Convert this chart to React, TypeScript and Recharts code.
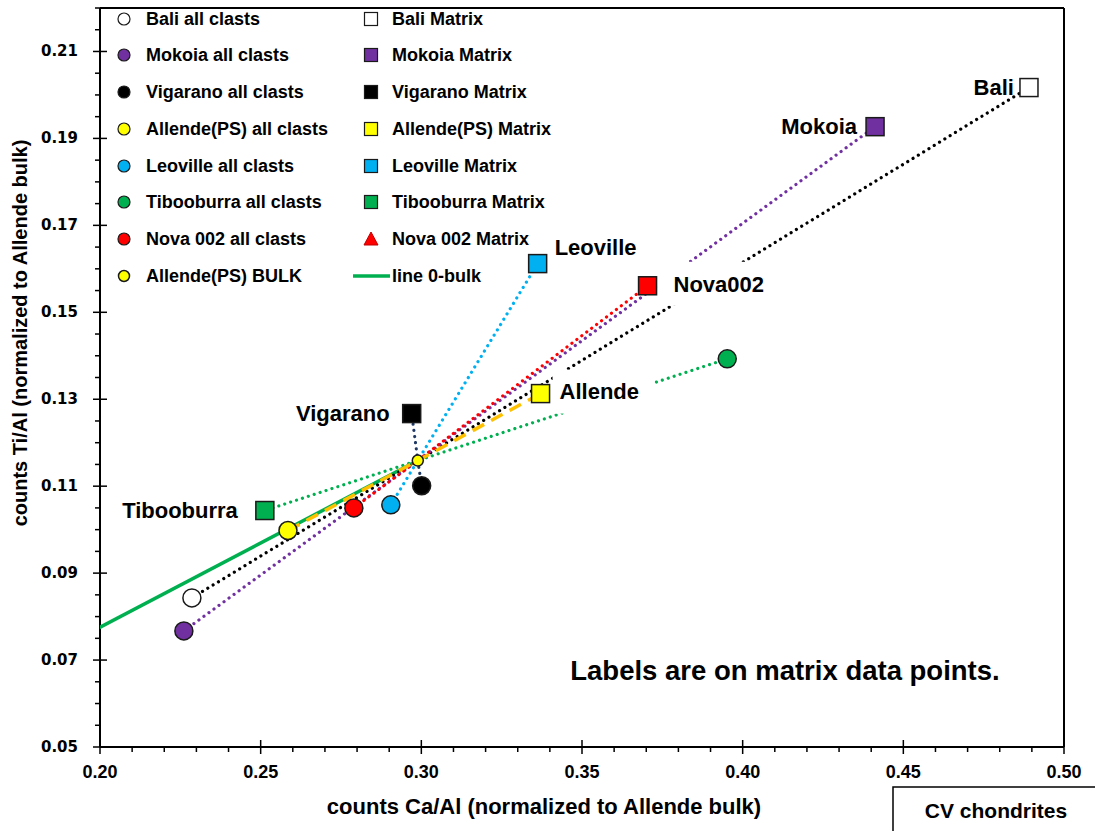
import React from 'react';
import { ScatterChart, Scatter, XAxis, YAxis, ReferenceLine } from 'recharts';

// ---------- data ----------
const sampleNames = ['Bali', 'Mokoia', 'Vigarano', 'Allende(PS)', 'Leoville', 'Tibooburra', 'Nova 002'];
const matrixLabels = ['Bali', 'Mokoia', 'Vigarano', 'Allende', 'Leoville', 'Tibooburra', 'Nova002'];
const clastX = [0.2286, 0.2261, 0.3001, 0.2585, 0.2905, 0.3952, 0.279];
const clastY = [0.0843, 0.0767, 0.1101, 0.0998, 0.1057, 0.1393, 0.105];
const matrixX = [0.4891, 0.4412, 0.297, 0.3371, 0.3362, 0.2513, 0.3704];
const matrixY = [0.2017, 0.1927, 0.1267, 0.1313, 0.1612, 0.1044, 0.1561];
const bulkX = [0.2989];
const bulkY = [0.1159];
const originX = [0];
const originY = [0];
const xMajorTicks = [0.2, 0.25, 0.3, 0.35, 0.4, 0.45, 0.5];
const yMajorTicks = [0.05, 0.07, 0.09, 0.11, 0.13, 0.15, 0.17, 0.19, 0.21];
const xTitle = 'counts Ca/Al (normalized to Allende bulk)';
const yTitle = 'counts Ti/Al (normalized to Allende bulk)';

// ---------- styles ----------
const FONT = '"Liberation Sans", Arial, sans-serif';
const TICKFONT = '"DejaVu Sans", Verdana, sans-serif';
const fills = ['#FFFFFF', '#7030A0', '#000000', '#FFFF00', '#00B0F0', '#00B050', '#FF0000'];
const lineColors = ['#000000', '#7030A0', '#1F3864', '#FFC000', '#00B0F0', '#00B050', '#FF0000'];
const lineOrder = [5, 0, 1, 6, 4, 2, 3];
const OUT = '#1a1a1a';
// label placement relative to the marker (style only)
const labelLayout = [
  { anchor: 'end', dx: -15, dy: 0, box: null },
  { anchor: 'end', dx: -18, dy: 0, box: null },
  { anchor: 'end', dx: -22, dy: 0, box: null },
  { anchor: 'start', dx: 19, dy: -2, box: [12, 114, -24, 20] },
  { anchor: 'start', dx: 17, dy: -16, box: null },
  { anchor: 'end', dx: -27, dy: 0, box: null },
  { anchor: 'start', dx: 26, dy: -1, box: [10, 132, -24, 20] },
];

const xTicks = Array.from({ length: 31 }, (_, i) => +(0.2 + i * 0.01).toFixed(2));
const yTicks = Array.from({ length: 35 }, (_, i) => +(0.05 + i * 0.005).toFixed(3));
const isXMajor = (v: number) => xMajorTicks.some((t) => Math.abs(t - v) < 1e-6);
const isYMajor = (v: number) => yMajorTicks.some((t) => Math.abs(t - v) < 1e-6);

const XTick = (props: any) => {
  const { x, y, payload } = props;
  const v = payload.value;
  const major = isXMajor(v);
  return (
    <g>
      {major ? (
        <line x1={x} x2={x} y1={y - 7} y2={y + 7} stroke="#000" strokeWidth={1.5} />
      ) : (
        <line x1={x} x2={x} y1={y} y2={y + 5} stroke="#000" strokeWidth={1.5} />
      )}
      {major && (
        <text x={x} y={y + 25} textAnchor="middle" dominantBaseline="central" fontFamily={FONT} fontWeight="bold" fontSize={18} fill="#000">
          {v.toFixed(2)}
        </text>
      )}
    </g>
  );
};

const YTick = (props: any) => {
  const { x, y, payload } = props;
  const v = payload.value;
  const major = isYMajor(v);
  return (
    <g>
      {major ? (
        <line x1={x - 7} x2={x + 7} y1={y} y2={y} stroke="#000" strokeWidth={1.5} />
      ) : (
        <line x1={x - 5} x2={x} y1={y} y2={y} stroke="#000" strokeWidth={1.5} />
      )}
      {major && (
        <text x={x - 22} y={y} textAnchor="end" dominantBaseline="central" fontFamily={TICKFONT} fontWeight="bold" fontSize={15} fill="#000">
          {v.toFixed(2)}
        </text>
      )}
    </g>
  );
};

const noShape = () => <g />;

const circleShape = (fill: string, r: number) => (p: any) => (
  <circle cx={p.cx} cy={p.cy} r={r} fill={fill} stroke={OUT} strokeWidth={1.5} />
);

const matrixShape = (i: number) => (p: any) => {
  const lay = labelLayout[i];
  const { cx, cy } = p;
  return (
    <g>
      {lay.box && (
        <rect x={cx + lay.box[0]} y={cy + lay.box[2]} width={lay.box[1] - lay.box[0]} height={lay.box[3] - lay.box[2]} fill="#fff" />
      )}
      <text x={cx + lay.dx} y={cy + lay.dy} textAnchor={lay.anchor as any} dominantBaseline="central" fontFamily={FONT} fontWeight="bold" fontSize={22} fill="#000">
        {matrixLabels[i]}
      </text>
      <rect x={cx - 9} y={cy - 9} width={18} height={18} fill={fills[i]} stroke={OUT} strokeWidth={1.5} />
    </g>
  );
};

const lineStyle = (i: number) =>
  i === 3
    ? { stroke: lineColors[i], strokeWidth: 3.5, strokeDasharray: '13 8', strokeLinecap: 'butt' }
    : { stroke: lineColors[i], strokeWidth: 3.2, strokeDasharray: '0.01 6.2', strokeLinecap: 'round' };

// legend rows
const legendRowY = [19, 55, 92, 129, 166, 202, 239, 276];

export default function App() {
  return (
    <div style={{ position: 'absolute', left: 0, top: 0, width: 1095, height: 831, background: '#fff' }}>
      <ScatterChart width={1095} height={831} margin={{ top: 8, right: 31, bottom: 0, left: 0 }}>
        <XAxis
          type="number"
          dataKey="x"
          domain={[0.2, 0.5]}
          ticks={xTicks}
          interval={0}
          tick={XTick}
          tickLine={false}
          tickSize={0}
          tickMargin={0}
          axisLine={{ stroke: '#000', strokeWidth: 2 }}
          allowDataOverflow
          height={84}
        />
        <YAxis
          type="number"
          dataKey="y"
          domain={[0.05, 0.22]}
          ticks={yTicks}
          interval={0}
          tick={YTick}
          tickLine={false}
          tickSize={0}
          tickMargin={0}
          axisLine={{ stroke: '#000', strokeWidth: 2 }}
          allowDataOverflow
          width={100}
        />
        <ReferenceLine y={0.22} stroke="#000" strokeWidth={2} />
        <ReferenceLine x={0.5} stroke="#000" strokeWidth={2} />

        <Scatter
          name="line 0-bulk"
          data={[{ x: originX[0], y: originY[0] }, { x: bulkX[0], y: bulkY[0] }]}
          line={{ stroke: '#00B050', strokeWidth: 3.5 }}
          shape={noShape}
          isAnimationActive={false}
        />
        {lineOrder.map((i) => (
          <Scatter
            key={'line' + i}
            name={sampleNames[i] + ' mixing line'}
            data={[
              { x: clastX[i], y: clastY[i] },
              { x: bulkX[0], y: bulkY[0] },
              { x: matrixX[i], y: matrixY[i] },
            ]}
            line={lineStyle(i) as any}
            shape={noShape}
            isAnimationActive={false}
          />
        ))}
        {sampleNames.map((n, i) => (
          <Scatter
            key={'cl' + i}
            name={n + ' all clasts'}
            data={[{ x: clastX[i], y: clastY[i] }]}
            shape={circleShape(fills[i], 9)}
            isAnimationActive={false}
          />
        ))}
        {sampleNames.map((n, i) => (
          <Scatter
            key={'mx' + i}
            name={n + ' Matrix'}
            data={[{ x: matrixX[i], y: matrixY[i] }]}
            shape={matrixShape(i)}
            isAnimationActive={false}
          />
        ))}
        <Scatter
          name="Allende(PS) BULK"
          data={[{ x: bulkX[0], y: bulkY[0] }]}
          shape={circleShape('#FFFF00', 5.5)}
          isAnimationActive={false}
        />
      </ScatterChart>

      <svg width={1095} height={831} style={{ position: 'absolute', left: 0, top: 0, pointerEvents: 'none' }}>
        {/* legend */}
        {sampleNames.map((n, i) => (
          <g key={'lg' + i}>
            <circle cx={124} cy={legendRowY[i]} r={6} fill={fills[i]} stroke={OUT} strokeWidth={1.2} />
            <text x={146} y={legendRowY[i]} dominantBaseline="central" fontFamily={FONT} fontWeight="bold" fontSize={18}>
              {n + ' all clasts'}
            </text>
            {i === 6 ? (
              <polygon points={`${371},${legendRowY[i] - 7} ${378},${legendRowY[i] + 6} ${364},${legendRowY[i] + 6}`} fill={fills[i]} stroke="#c00000" strokeWidth={1} />
            ) : (
              <rect x={364.5} y={legendRowY[i] - 6.5} width={13} height={13} fill={fills[i]} stroke={OUT} strokeWidth={1.2} />
            )}
            <text x={392} y={legendRowY[i]} dominantBaseline="central" fontFamily={FONT} fontWeight="bold" fontSize={18}>
              {n + ' Matrix'}
            </text>
          </g>
        ))}
        <circle cx={124} cy={legendRowY[7]} r={5.5} fill="#FFFF00" stroke={OUT} strokeWidth={1.5} />
        <text x={146} y={legendRowY[7]} dominantBaseline="central" fontFamily={FONT} fontWeight="bold" fontSize={18}>
          Allende(PS) BULK
        </text>
        <line x1={353} x2={390} y1={legendRowY[7]} y2={legendRowY[7]} stroke="#00B050" strokeWidth={3.5} />
        <text x={392} y={legendRowY[7]} dominantBaseline="central" fontFamily={FONT} fontWeight="bold" fontSize={18}>
          line 0-bulk
        </text>

        {/* axis titles */}
        <text x={544} y={806} textAnchor="middle" dominantBaseline="central" fontFamily={FONT} fontWeight="bold" fontSize={22}>
          {xTitle}
        </text>
        <text x={20} y={333} transform="rotate(-90 20 333)" textAnchor="middle" dominantBaseline="central" fontFamily={FONT} fontWeight="bold" fontSize={20}>
          {yTitle}
        </text>

        {/* annotation */}
        <text x={785} y={670} textAnchor="middle" dominantBaseline="central" fontFamily={FONT} fontWeight="bold" fontSize={27.5}>
          Labels are on matrix data points.
        </text>
        <rect x={893} y={787} width={300} height={100} fill="#fff" stroke="#000" strokeWidth={1.5} />
        <text x={996} y={810} textAnchor="middle" dominantBaseline="central" fontFamily={FONT} fontWeight="bold" fontSize={21}>
          CV chondrites
        </text>
      </svg>
    </div>
  );
}
